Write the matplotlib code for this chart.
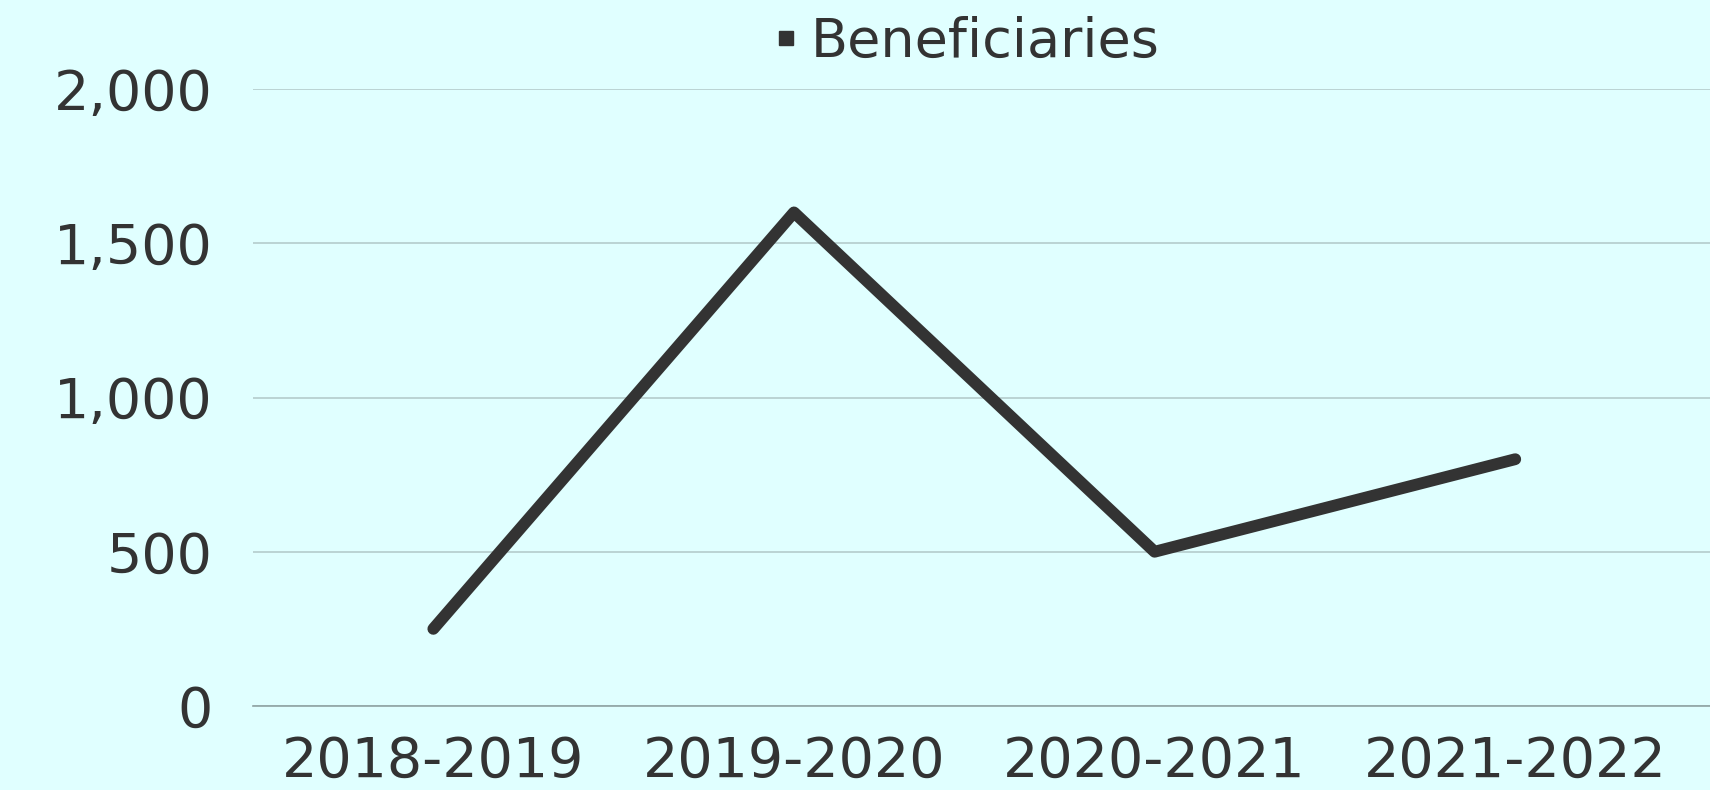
import matplotlib
matplotlib.use("Agg")
import matplotlib.pyplot as plt
from matplotlib.ticker import FuncFormatter
from matplotlib.lines import Line2D

# data
years = ["2018-2019", "2019-2020", "2020-2021", "2021-2022"]
beneficiaries = [250, 1600, 500, 800]
yticks = [0, 500, 1000, 1500, 2000]

bg = "#E0FFFF"
ink = "#333333"

plt.rcParams["font.family"] = ["DejaVu Sans"]

fig = plt.figure(figsize=(17.1, 7.9), dpi=100, facecolor=bg)
ax = fig.add_axes([253 / 1710, 1 - 706 / 790, 1 - 253 / 1710, (706 - 89) / 790])
ax.set_facecolor(bg)

x = list(range(len(years)))
ax.plot(x, beneficiaries, color=ink, lw=8.5, solid_capstyle="round",
        solid_joinstyle="round", zorder=3)

ax.set_xlim(-0.5, len(years) - 0.46)
ax.set_ylim(0, 2000)
ax.set_yticks(yticks)
ax.yaxis.set_major_formatter(FuncFormatter(lambda v, p: "{:,.0f}".format(v)))
ax.set_xticks(x)
ax.set_xticklabels(years)

ax.grid(axis="y", color="#B4CCCC", lw=1.2)
ax.set_axisbelow(True)
for s in ["top", "right", "left"]:
    ax.spines[s].set_visible(False)
ax.spines["bottom"].set_color("#8FA3A3")
ax.spines["bottom"].set_linewidth(1.2)

ax.tick_params(axis="both", length=0, labelsize=40, colors=ink)
ax.tick_params(axis="y", pad=29)
ax.tick_params(axis="x", pad=21)

handle = Line2D([], [], marker="s", color="none", markerfacecolor=ink,
                markeredgecolor=ink, markersize=10)
fig.legend([handle], ["Beneficiaries"], loc="center",
           bbox_to_anchor=(966 / 1710, 1 - 42 / 790), frameon=False, fontsize=39,
           labelcolor=ink, handlelength=0.5, handletextpad=0.2,
           borderpad=0, borderaxespad=0)

fig.savefig("out.png", dpi=100, facecolor=bg)
